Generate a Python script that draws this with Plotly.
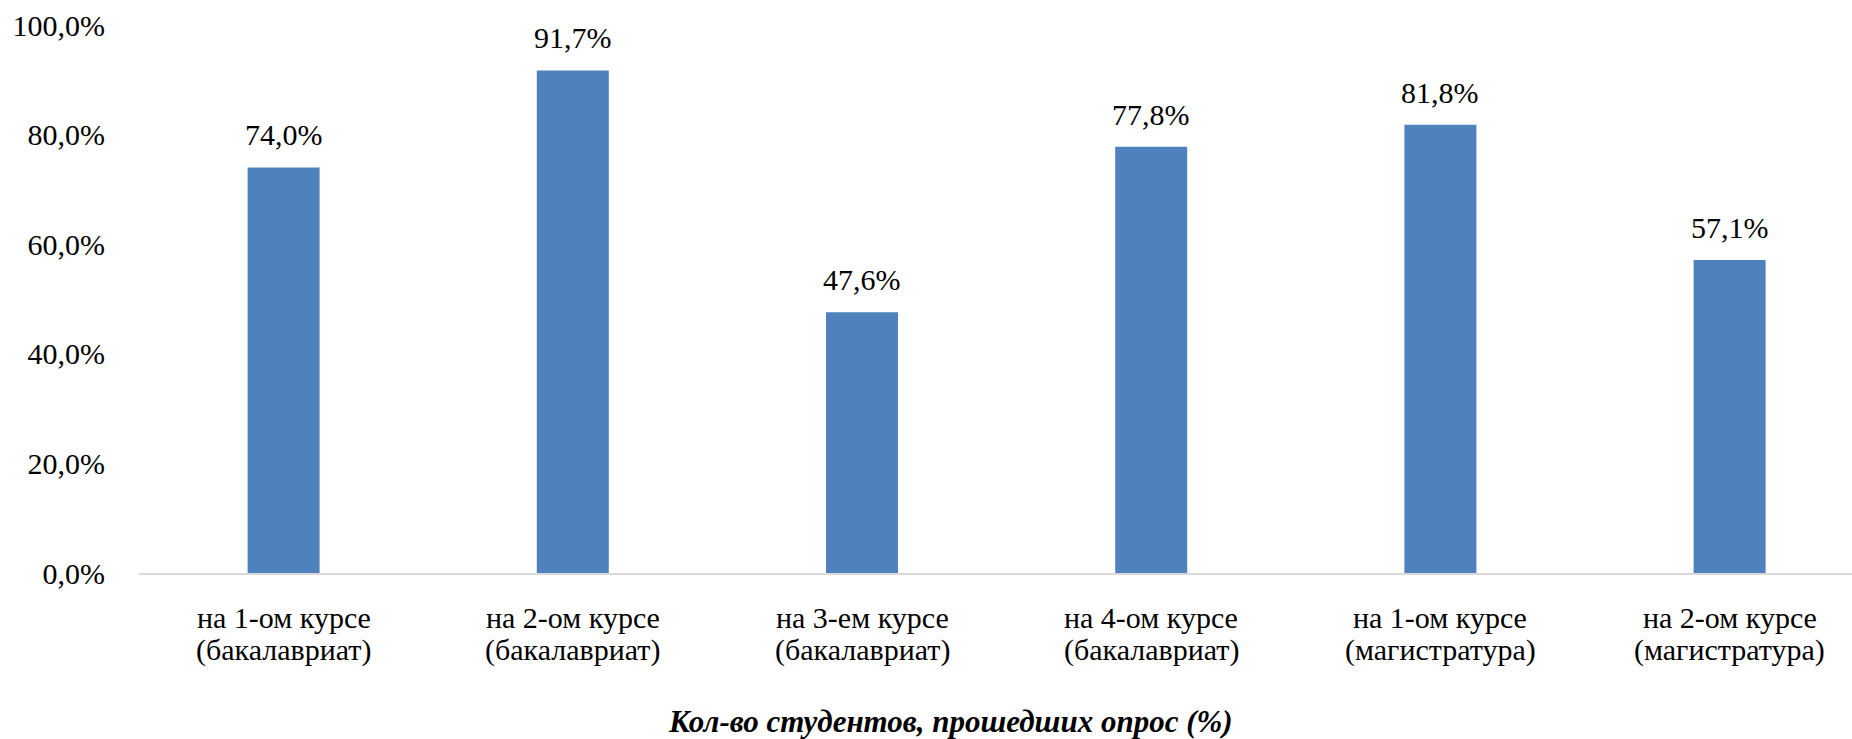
import plotly.graph_objects as go

# ---- data ----
course_lines = ["на 1-ом курсе", "на 2-ом курсе", "на 3-ем курсе",
                "на 4-ом курсе", "на 1-ом курсе", "на 2-ом курсе"]
program_lines = ["(бакалавриат)", "(бакалавриат)", "(бакалавриат)",
                 "(бакалавриат)", "(магистратура)", "(магистратура)"]
values = [74.0, 91.7, 47.6, 77.8, 81.8, 57.1]
value_labels = ["74,0%", "91,7%", "47,6%", "77,8%", "81,8%", "57,1%"]
y_tick_vals = [0, 20, 40, 60, 80, 100]
y_tick_text = ["0,0%", "20,0%", "40,0%", "60,0%", "80,0%", "100,0%"]
x_title = "Кол-во студентов, прошедших опрос (%)"

categories = [f"{a} {b}" for a, b in zip(course_lines, program_lines)]
idx = list(range(len(categories)))

FONT = "Liberation Serif, Times New Roman, serif"
W, H = 1852, 739
ML, MR, MT, MB = 139, 0, 25, 166

fig = go.Figure(
    go.Bar(
        x=idx,
        y=values,
        marker=dict(color="#4f81bd", line=dict(width=0)),
        hovertext=categories,
        showlegend=False,
    )
)

annotations = []
for i, v, t in zip(idx, values, value_labels):
    annotations.append(dict(
        x=i, y=v, xref="x", yref="y", text=t, showarrow=False,
        yanchor="bottom", yshift=14,
        font=dict(family=FONT, size=30, color="#000000"),
    ))
for i, a, b in zip(idx, course_lines, program_lines):
    annotations.append(dict(
        x=i, y=0, xref="x", yref="y", text=a, showarrow=False,
        yanchor="middle", yshift=-(617 - 573),
        font=dict(family=FONT, size=30, color="#000000"),
    ))
    annotations.append(dict(
        x=i, y=0, xref="x", yref="y", text=b, showarrow=False,
        yanchor="middle", yshift=-(650 - 573),
        font=dict(family=FONT, size=30, color="#000000"),
    ))

plot_w = W - ML - MR
annotations.append(dict(
    x=(950 - ML) / plot_w, y=0, xref="paper", yref="y",
    text=f"<b><i>{x_title}</i></b>", showarrow=False,
    yanchor="middle", yshift=-(721 - 573),
    font=dict(family=FONT, size=31, color="#000000"),
))

cat_px = 289.2
x_right = -0.5 + plot_w / cat_px

fig.update_layout(
    width=W, height=H,
    margin=dict(l=ML, r=MR, t=MT, b=MB, autoexpand=False),
    paper_bgcolor="white", plot_bgcolor="white",
    bargap=1 - 72 / cat_px,
    font=dict(family=FONT, size=30, color="#000000"),
    annotations=annotations,
    xaxis=dict(
        range=[-0.5, x_right],
        tickvals=idx,
        showticklabels=False,
        ticks="",
        showgrid=False, zeroline=False,
        showline=True, linecolor="#d9d9d9", linewidth=2,
        fixedrange=True,
    ),
    yaxis=dict(
        range=[0, 100],
        tickvals=y_tick_vals,
        ticktext=y_tick_text,
        ticks="",
        ticklabelstandoff=33,
        showgrid=False, zeroline=False, showline=False,
        tickfont=dict(family=FONT, size=30, color="#000000"),
        fixedrange=True,
    ),
)

fig.write_html(
    "out.html",
    config={"displayModeBar": False},
    post_script="document.body.style.margin='0';"
                "document.documentElement.style.overflow='hidden';",
)
